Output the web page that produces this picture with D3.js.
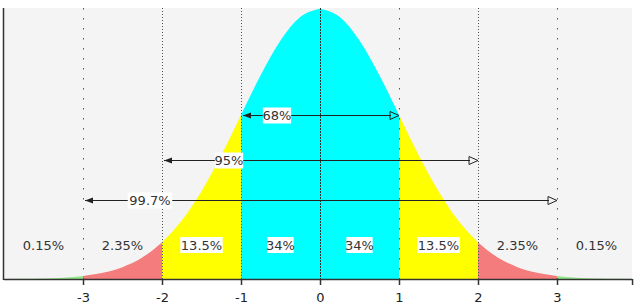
<!DOCTYPE html>
<html>
<head>
<meta charset="utf-8">
<script src="https://cdn.jsdelivr.net/npm/d3@7"></script>
<style>
  body { margin: 0; background: #fff; }
  svg { display: block; font-family: "DejaVu Sans", Verdana, sans-serif; }
</style>
</head>
<body>
<div id="chart"></div>
<script>
// standard normal density, every quarter sigma
var curveX = [-4, -3.75, -3.5, -3.25, -3, -2.75, -2.5, -2.25, -2, -1.75, -1.5, -1.25, -1, -0.75, -0.5, -0.25,
              0, 0.25, 0.5, 0.75, 1, 1.25, 1.5, 1.75, 2, 2.25, 2.5, 2.75, 3, 3.25, 3.5, 3.75, 4];
var curveY = [0.0001, 0.0004, 0.0009, 0.0020, 0.0044, 0.0091, 0.0175, 0.0317, 0.0540, 0.0863, 0.1295, 0.1826, 0.2420, 0.3011, 0.3521, 0.3867,
              0.3989, 0.3867, 0.3521, 0.3011, 0.2420, 0.1826, 0.1295, 0.0863, 0.0540, 0.0317, 0.0175, 0.0091, 0.0044, 0.0020, 0.0009, 0.0004, 0.0001];

var sigmaTicks = [-3, -2, -1, 0, 1, 2, 3];
var bandEdges = [-4, -3, -2, -1, 0, 1, 2, 3, 4];
var bandShares = ["0.15%", "2.35%", "13.5%", "34%", "34%", "13.5%", "2.35%", "0.15%"];
var rangeLabels = ["68%", "95%", "99.7%"];
var rangeFrom = [-1, -2, -3];
var rangeTo = [1, 2, 3];

var width = 640, height = 307;
var bandColors = ["#93e68b", "#f47c7c", "#ffff00", "#00ffff", "#00ffff", "#ffff00", "#f47c7c", "#93e68b"];
var sparseLines = [-3, 1, 3];
var charW = 8.1;

var svg = d3.select("#chart").append("svg")
    .attr("width", width)
    .attr("height", height);

var x = d3.scaleLinear().domain([-4, 4]).range([4, 636]);
var y = d3.scaleLinear().domain([0, 0.4]).range([279, 8]);

svg.append("rect")
    .attr("x", 4).attr("y", 8)
    .attr("width", 628).attr("height", 271)
    .attr("fill", "#f4f4f4");

var points = curveX.map(function(d, i) { return [d, curveY[i]]; });

var area = d3.area()
    .x(function(d) { return x(d[0]); })
    .y0(y(0))
    .y1(function(d) { return y(d[1]); })
    .curve(d3.curveMonotoneX);

svg.append("g")
  .selectAll("path")
  .data(bandShares)
  .enter()
  .append("path")
    .attr("fill", function(d, i) { return bandColors[i]; })
    .attr("d", function(d, i) {
      var lo = bandEdges[i], hi = bandEdges[i + 1];
      return area(points.filter(function(p) { return p[0] >= lo && p[0] <= hi; }));
    });

// dotted sigma lines
svg.append("g")
  .selectAll("line")
  .data(sigmaTicks)
  .enter()
  .append("line")
    .attr("x1", function(d) { return x(d) + 0.5; })
    .attr("x2", function(d) { return x(d) + 0.5; })
    .attr("y1", 8)
    .attr("y2", y(0))
    .attr("stroke", function(d) { return d == 0 ? "#333" : "#555"; })
    .attr("stroke-width", 1)
    .attr("stroke-dasharray", function(d) {
      if (d == 0) return "2,1";
      return sparseLines.indexOf(d) >= 0 ? "1.5,8.5" : "1,2";
    });

// range arrows
var arrowY = [115.5, 160.5, 200.5];
var labelX = [277, 229, 150];

var arrows = svg.append("g")
  .selectAll("g")
  .data(rangeLabels)
  .enter()
  .append("g");

arrows.append("line")
    .attr("x1", function(d, i) { return x(rangeFrom[i]) + 2; })
    .attr("x2", function(d, i) { return x(rangeTo[i]) - 8; })
    .attr("y1", function(d, i) { return arrowY[i]; })
    .attr("y2", function(d, i) { return arrowY[i]; })
    .attr("stroke", "#222")
    .attr("stroke-width", 1.2);

arrows.append("path")
    .attr("d", function(d, i) {
      var x0 = x(rangeFrom[i]) + 2, yy = arrowY[i];
      return "M" + x0 + "," + yy + "L" + (x0 + 8) + "," + (yy - 3) + "L" + (x0 + 8) + "," + (yy + 3) + "Z";
    })
    .attr("fill", "#222");

arrows.append("path")
    .attr("d", function(d, i) {
      var x1 = x(rangeTo[i]), yy = arrowY[i];
      return "M" + x1 + "," + yy + "L" + (x1 - 9) + "," + (yy - 4) + "L" + (x1 - 9) + "," + (yy + 4) + "Z";
    })
    .attr("fill", "none")
    .attr("stroke", "#222")
    .attr("stroke-width", 1);

arrows.append("rect")
    .attr("x", function(d, i) { return labelX[i] - (d.length * charW + 4) / 2; })
    .attr("y", function(d, i) { return arrowY[i] - 8; })
    .attr("width", function(d) { return d.length * charW + 4; })
    .attr("height", 16)
    .attr("fill", "#fff");

arrows.append("text")
    .attr("x", function(d, i) { return labelX[i]; })
    .attr("y", function(d, i) { return arrowY[i]; })
    .attr("dy", "0.36em")
    .attr("text-anchor", "middle")
    .attr("font-size", 13)
    .attr("fill", "#333")
    .text(function(d) { return d; });

// share labels inside each band
var shares = svg.append("g")
  .selectAll("g")
  .data(bandShares)
  .enter()
  .append("g")
    .attr("transform", function(d, i) {
      return "translate(" + x((bandEdges[i] + bandEdges[i + 1]) / 2) + ",245)";
    });

shares.filter(function(d, i) { return i >= 2 && i <= 5; })
  .append("rect")
    .attr("x", function(d) { return -(d.length * charW + 2) / 2; })
    .attr("y", -8)
    .attr("width", function(d) { return d.length * charW + 2; })
    .attr("height", 16)
    .attr("fill", "#fff");

shares.append("text")
    .attr("dy", "0.36em")
    .attr("text-anchor", "middle")
    .attr("font-size", 13)
    .attr("fill", "#333")
    .text(function(d) { return d; });

// axes
var xAxis = d3.axisBottom(x)
    .tickValues(sigmaTicks.concat([3.95]))
    .tickSize(6)
    .tickFormat(function(d) { return d == 3.95 ? "" : String(d); });

var gx = svg.append("g")
    .attr("transform", "translate(0," + y(0) + ")")
    .call(xAxis);
gx.select(".domain")
    .attr("d", "M4,0.5H" + x(3.95))
    .attr("stroke", "#333")
    .attr("stroke-width", 1.5);
gx.selectAll(".tick line").attr("stroke", "#333").attr("stroke-width", 1.5);
gx.selectAll(".tick text")
    .attr("font-family", "DejaVu Sans, Verdana, sans-serif")
    .attr("font-size", 13)
    .attr("fill", "#222")
    .attr("dy", "1.05em");

svg.append("line")
    .attr("x1", 3.5).attr("x2", 3.5)
    .attr("y1", 8).attr("y2", y(0) + 1)
    .attr("stroke", "#333")
    .attr("stroke-width", 1.5);
</script>
</body>
</html>
